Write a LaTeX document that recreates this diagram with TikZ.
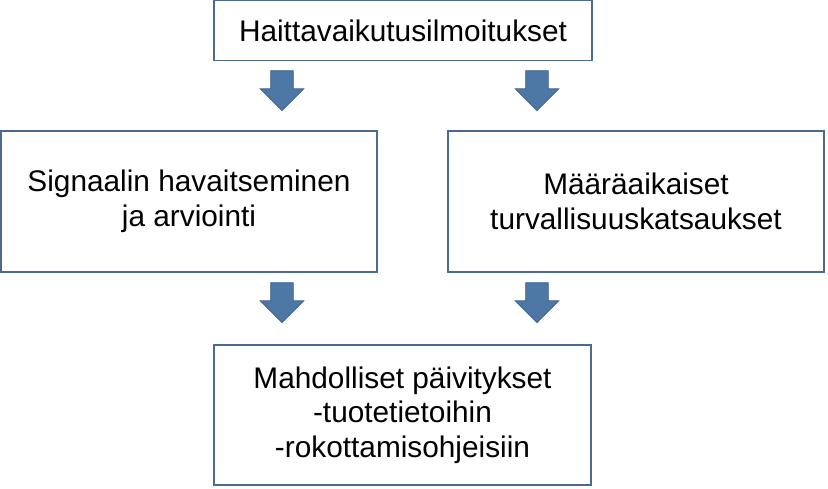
\documentclass[tikz,border=0pt]{standalone}
\usepackage{fontspec}
\setmainfont{Liberation Sans}
\usepackage{tikz}
\usetikzlibrary{shapes.arrows}
\definecolor{boxedge}{HTML}{4A6A92}
\definecolor{arrowblue}{HTML}{4D77A5}
\definecolor{arrowedge}{HTML}{3C5F8B}
\tikzset{
  box/.style={draw=boxedge, line width=1.4pt, fill=white, inner sep=0pt, align=center,
    font=\fontsize{29.8}{34.5}\selectfont},
  blockarrow/.style={single arrow, draw=arrowedge, fill=arrowblue, line width=0.7pt,
    minimum height=40pt, minimum width=43pt, single arrow head extend=10.5pt,
    single arrow head indent=0pt, inner xsep=11pt, inner ysep=0pt, shape border rotate=270},
}

\begin{document}
\begin{tikzpicture}[x=1pt, y=-1pt]

  \useasboundingbox (0,0) rectangle (828,488);

  \node[box, minimum width=378pt, minimum height=60pt] (reports) at (403,30.5)
      {Haittavaikutusilmoitukset};

  \node[box, minimum width=376pt, minimum height=141pt] (signal) at (189,201.5)
      {Signaalin havaitseminen\\ja arviointi};
  \node[box, minimum width=376pt, minimum height=141pt] (psur) at (636,201.5)
      {Määräaikaiset\\turvallisuuskatsaukset};

  \node[box, minimum width=377pt, minimum height=140pt] (updates) at (402.5,415)
      {Mahdolliset päivitykset\\-tuotetietoihin\\-rokottamisohjeisiin};

  \node[blockarrow] (arrA) at (282,85) {};
  \node[blockarrow] (arrB) at (537,85) {};
  \node[blockarrow] (arrC) at (282,297) {};
  \node[blockarrow] (arrD) at (537,297) {};

\end{tikzpicture}
\end{document}
